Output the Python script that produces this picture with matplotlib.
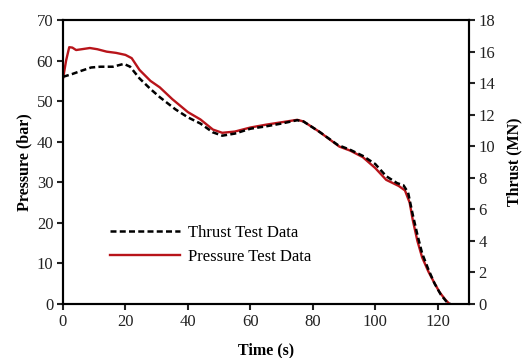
import matplotlib
matplotlib.use("Agg")
import matplotlib.pyplot as plt

plt.rcParams["font.family"] = ["Liberation Serif", "DejaVu Serif"]

# thrust test data (MN), right axis
thrust_t = [0, 3, 6, 9, 12, 16, 19.5, 21.5, 24.5, 28, 31, 36, 40, 44, 48, 51, 55,
            60, 65, 70, 75, 77, 82, 88, 92, 96, 100, 103.5, 107, 109, 110.5, 112,
            113.5, 115, 117, 119, 121, 123, 124]
thrust_mn = [14.40, 14.58, 14.79, 14.99, 15.04, 15.04, 15.22, 15.04, 14.30, 13.63,
             13.11, 12.34, 11.83, 11.44, 10.88, 10.67, 10.80, 11.11, 11.26, 11.44,
             11.65, 11.57, 10.93, 10.08, 9.77, 9.39, 8.87, 8.10, 7.66, 7.53, 7.07,
             5.66, 4.37, 3.21, 2.19, 1.29, 0.59, 0.10, 0.0]

# pressure test data (bar), left axis
press_t = [0, 1, 2, 3, 4.2, 6, 8.6, 11, 14, 17, 20, 22, 24.5, 28, 31, 35, 40, 44,
           48, 51, 55, 60, 65, 70, 75, 77, 82, 88.5, 92, 96, 100, 103.5, 107.5,
           109.5, 111, 112, 113.5, 115, 117, 118.5, 120.5, 122.5, 123.8]
press_bar = [55.5, 60.0, 63.3, 63.2, 62.6, 62.8, 63.1, 62.8, 62.2, 61.9, 61.4, 60.6,
             57.7, 55.0, 53.4, 50.5, 47.3, 45.5, 43.0, 42.2, 42.5, 43.5, 44.2, 44.8,
             45.4, 45.0, 42.5, 38.8, 37.8, 36.2, 33.5, 30.6, 29.1, 28.0, 25.0, 20.7,
             15.5, 11.5, 8.0, 5.8, 3.0, 1.0, 0.0]

fig = plt.figure(figsize=(5.31, 3.58), dpi=100)
ax = fig.add_axes([0.1186, 0.1508, 0.7646, 0.7933])
ax2 = ax.twinx()

l_press, = ax.plot(press_t, press_bar, color="#b8141a", lw=1.7,
                   label="Pressure Test Data")
l_thrust, = ax2.plot(thrust_t, thrust_mn, color="black", lw=1.8,
                     dashes=(2.4, 1.3), label="Thrust Test Data")

ax.set_xlim(0, 130)
ax.set_ylim(0, 70)
ax2.set_ylim(0, 18)
ax.set_xticks(range(0, 121, 20))
ax.set_yticks(range(0, 71, 10))
ax2.set_yticks(range(0, 19, 2))

for a in (ax, ax2):
    for s in a.spines.values():
        s.set_linewidth(1.5)
    a.tick_params(direction="out", length=4, width=1.5, labelsize=12, pad=3,
                  colors="#222222")

ax.set_xlabel("Time (s)", fontsize=11.5, fontweight="bold", labelpad=9)
ax.set_ylabel("Pressure (bar)", fontsize=11.5, fontweight="bold", labelpad=3)
ax2.set_ylabel("Thrust (MN)", fontsize=11.5, fontweight="bold", labelpad=8)

ax2.legend([l_thrust, l_press], ["Thrust Test Data", "Pressure Test Data"],
           loc="upper left", bbox_to_anchor=(0.116, 0.278), frameon=False,
           fontsize=12, handlelength=4.2, borderpad=0, borderaxespad=0,
           handletextpad=0.5, labelspacing=0.45)

fig.savefig("out.png", dpi=100)
